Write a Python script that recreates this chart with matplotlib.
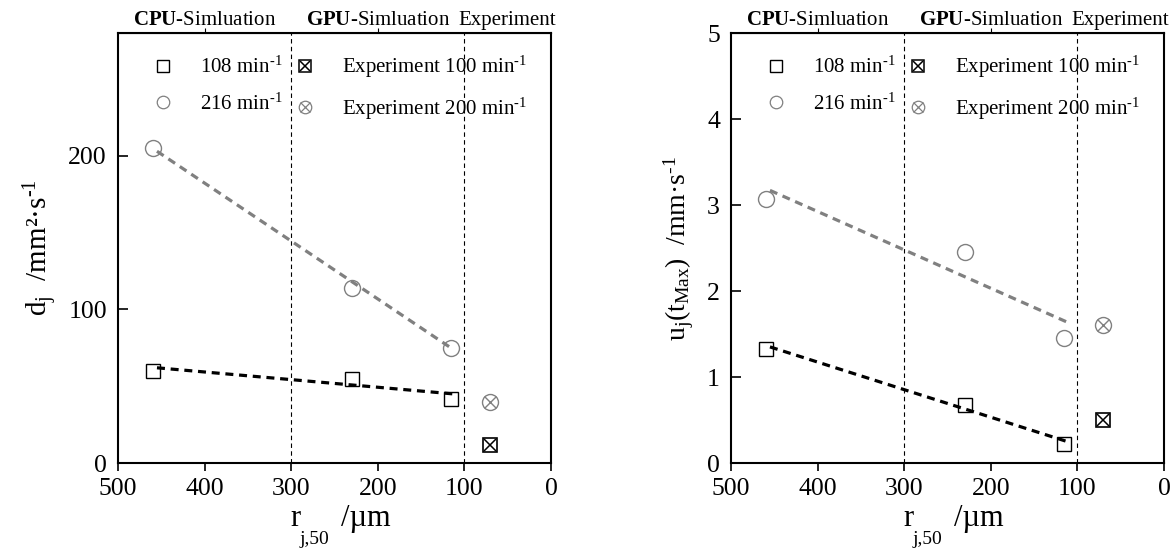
import numpy as np
import matplotlib
matplotlib.use("Agg")
import matplotlib.pyplot as plt
from matplotlib.lines import Line2D

plt.rcParams["font.family"] = ["Liberation Serif", "DejaVu Serif"]
plt.rcParams["mathtext.fontset"] = "custom"
plt.rcParams["mathtext.rm"] = "Liberation Serif"
plt.rcParams["mathtext.it"] = "Liberation Serif:italic"
plt.rcParams["mathtext.bf"] = "Liberation Serif:bold"

# simulation particle radii and experiment radius
r_sim = [460, 230, 115]
r_exp = [70]

# panel a: d_j
d_108 = [60, 55, 42]
d_216 = [205, 114, 75]
d_exp100 = [12]
d_exp200 = [40]
fit_x_d = [455, 113]
fit_d_108 = [62, 45]
fit_d_216 = [203, 74]

# panel b: u_j(t_max)
u_108 = [1.33, 0.68, 0.22]
u_216 = [3.07, 2.45, 1.45]
u_exp100 = [0.50]
u_exp200 = [1.61]
fit_x_u_216 = [455, 110]
fit_u_216 = [3.17, 1.63]
fit_x_u_108 = [455, 112]
fit_u_108 = [1.35, 0.25]

legend_labels = [r"108 min$^{\text{-1}}$", r"216 min$^{\text{-1}}$",
                 r"Experiment 100 min$^{\text{-1}}$", r"Experiment 200 min$^{\text{-1}}$"]

GRAY = "#808080"
fig = plt.figure(figsize=(11.74, 5.54), dpi=100)
ax1 = fig.add_axes([118 / 1174, 91 / 554, 433 / 1174, 430 / 554])
ax2 = fig.add_axes([731 / 1174, 91 / 554, 433 / 1174, 430 / 554])


def style(ax, ylim, yticks):
    ax.set_xlim(500, 0)
    ax.set_ylim(*ylim)
    ax.set_xticks([500, 400, 300, 200, 100, 0])
    ax.set_yticks(yticks)
    ax.tick_params(axis="x", direction="out", length=6, width=1.2, labelsize=18.5, top=False, pad=5)
    ax.tick_params(axis="y", direction="in", length=7, width=1.2, labelsize=18.5, pad=8)
    ax.secondary_xaxis("top").set_xticks([400, 200], labels=[])
    for s in ax.spines.values():
        s.set_linewidth(1.5)
    ax.axvline(300, color="black", ls=(0, (4, 3)), lw=0.8)
    ax.axvline(100, color="black", ls=(0, (4, 3)), lw=0.8)
    # x label: r with a deep subscript, then the unit
    kw = dict(xycoords="axes fraction", textcoords="offset points", annotation_clip=False)
    ax.annotate("r", xy=(0.5, 0), xytext=(-28, -40), ha="center", va="center", fontsize=22, **kw)
    ax.annotate("j,50", xy=(0.5, 0), xytext=(-25, -55), ha="left", va="center", fontsize=14, **kw)
    ax.annotate("/µm", xy=(0.5, 0), xytext=(5, -40), ha="left", va="center", fontsize=22, **kw)
    tr = ax.get_xaxis_transform()
    ax.text(400, 1.018, r"$\mathbf{CPU}$-Simluation", transform=tr, ha="center", va="baseline", fontsize=15)
    ax.text(200, 1.018, r"$\mathbf{GPU}$-Simluation", transform=tr, ha="center", va="baseline", fontsize=15)
    ax.text(51, 1.018, "Experiment", transform=tr, ha="center", va="baseline", fontsize=15)


def draw(ax, y108, y216, e100, e200, fx108, f108, fx216, f216):
    ax.plot(fx216, f216, color=GRAY, ls=(0, (2.5, 1.8)), lw=2.3)
    ax.plot(fx108, f108, color="black", ls=(0, (2.5, 1.8)), lw=2.3)
    ax.plot(r_sim, y108, ls="none", marker="s", ms=10, mfc="none", mec="black", mew=1.0)
    ax.plot(r_sim, y216, ls="none", marker="o", ms=11.5, mfc="none", mec=GRAY, mew=1.0)
    ax.plot(r_exp, e100, ls="none", marker="s", ms=9.5, mfc="white", mec="black", mew=1.2)
    ax.plot(r_exp, e100, ls="none", marker="x", ms=8, mec="black", mew=1.1)
    ax.plot(r_exp, e200, ls="none", marker="o", ms=11.5, mfc="none", mec=GRAY, mew=1.0)
    ax.plot(r_exp, e200, ls="none", marker="x", ms=8, mec=GRAY, mew=1.0)

    h108 = Line2D([], [], ls="none", marker="s", ms=8.5, mfc="white", mec="black", mew=1.0)
    h216 = Line2D([], [], ls="none", marker="o", ms=9, mfc="none", mec=GRAY, mew=0.9)
    hsq = Line2D([], [], ls="none", marker="s", ms=8.5, mfc="white", mec="black", mew=1.1)
    hsx = Line2D([], [], ls="none", marker="x", ms=7, mec="black", mew=1.1)
    hci = Line2D([], [], ls="none", marker="o", ms=9, mfc="none", mec=GRAY, mew=0.9)
    hcx = Line2D([], [], ls="none", marker="x", ms=7, mec=GRAY, mew=0.9)
    ax.legend([h108, h216, (hsq, hsx), (hci, hcx)], legend_labels,
              ncol=2, loc="upper left", bbox_to_anchor=(0.065, 0.966), frameon=False,
              fontsize=15, handlelength=1.0, handletextpad=1.28, columnspacing=0.6,
              labelspacing=0.75, borderpad=0.3, borderaxespad=0)


style(ax1, (0, 280), [0, 100, 200])
draw(ax1, d_108, d_216, d_exp100, d_exp200, fit_x_d, fit_d_108, fit_x_d, fit_d_216)
ax1.set_ylabel(r"d$_{\mathrm{j}}$  /mm²·s$^{\text{-1}}$", fontsize=21, labelpad=6)

style(ax2, (0, 5), [0, 1, 2, 3, 4, 5])
draw(ax2, u_108, u_216, u_exp100, u_exp200, fit_x_u_108, fit_u_108, fit_x_u_216, fit_u_216)
ax2.set_ylabel(r"u$_{\mathrm{j}}$(t$_{\mathrm{Max}}$)  /mm·s$^{\text{-1}}$", fontsize=20, labelpad=8)

fig.savefig("out.png", dpi=100)
